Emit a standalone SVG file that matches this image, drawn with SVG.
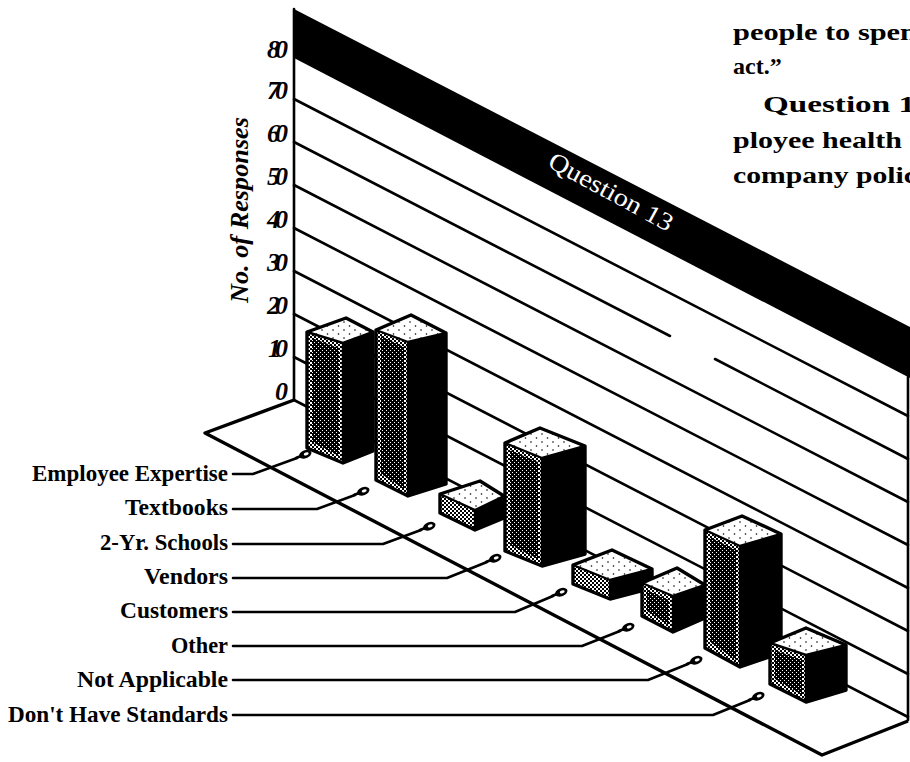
<svg xmlns="http://www.w3.org/2000/svg" xmlns:xlink="http://www.w3.org/1999/xlink" width="910" height="762" viewBox="0 0 910 762">
  <style>
    .ln { fill: none; stroke: #000; stroke-width: 2.6; stroke-linecap: round; stroke-linejoin: round; }
    .edge { fill: none; stroke: #000; stroke-width: 3.4; stroke-linejoin: round; }
    .inner { fill: none; stroke: #000; stroke-width: 2.4; stroke-linejoin: round; }
    .side { fill: #000; }
    .front { fill: url(#ht); }
    .shade { fill: url(#htd); }
    .top { fill: url(#speck); }
    .lab { font-family: "Liberation Serif", "DejaVu Serif", serif; font-weight: bold; font-size: 23px; fill: #000; text-anchor: end; }
    .num { font-family: "Liberation Serif", "DejaVu Serif", serif; font-weight: bold; font-style: italic; font-size: 26px; fill: #000; text-anchor: end; }
    .body { font-family: "Liberation Serif", "DejaVu Serif", serif; font-weight: bold; font-size: 24px; fill: #000; }
  </style>
  <defs>
    <!-- halftone fills for the bar faces -->
    <pattern id="ht" width="4" height="4" patternUnits="userSpaceOnUse">
      <rect width="4" height="4" fill="#000"/>
      <rect width="2" height="2" fill="#fff"/>
      <rect x="2" y="2" width="2" height="2" fill="#fff"/>
    </pattern>
    <pattern id="htd" width="4" height="4" patternUnits="userSpaceOnUse">
      <rect width="4" height="4" fill="#000"/>
      <rect width="1" height="1" fill="#fff"/>
      <rect x="2" y="2" width="1" height="1" fill="#fff"/>
    </pattern>
    <pattern id="speck" width="11" height="8" patternUnits="userSpaceOnUse">
      <rect width="11" height="8" fill="#fff"/>
      <circle cx="3" cy="2" r="0.8" fill="#000"/>
      <circle cx="8.5" cy="6" r="0.8" fill="#000"/>
    </pattern>
    <!-- little tag at the end of each leader line -->
    <g id="tag">
      <path d="M0,0 L6,0" stroke="#000" stroke-width="2.6" stroke-linecap="round"/>
      <ellipse cx="10" cy="0" rx="6.5" ry="4" fill="#000"/>
      <ellipse cx="11" cy="0" rx="2.6" ry="1.4" fill="#fff"/>
    </g>
  </defs>

  <rect width="910" height="762" fill="#fff"/>

  <!-- floor and back wall -->
  <g id="floor">
    <path class="edge" d="M294,400 L205,433 L822,755 L908,721"/>
  </g>
  <g id="wall">
    <path class="ln" d="M294,99 L908,416"/>
    <path class="ln" d="M294,142 L670,336"/>
    <path class="ln" d="M715,359 L908,459"/>
    <path class="ln" d="M294,185 L908,502"/>
    <path class="ln" d="M294,228 L908,545"/>
    <path class="ln" d="M294,271 L908,588"/>
    <path class="ln" d="M294,314 L908,631"/>
    <path class="ln" d="M294,357 L908,674"/>
    <path class="ln" d="M294,400 L908,717"/>
    <path class="ln" d="M908,377 L908,720"/>
    <polygon points="294,9 910,327 910,378 294,58" fill="#000"/>
    <path class="ln" d="M294,9 L294,400"/>
    <text transform="translate(611,192) rotate(28.5)" font-family="Liberation Serif, DejaVu Serif, serif" font-size="25" fill="#fff" text-anchor="middle" y="8" textLength="138" lengthAdjust="spacingAndGlyphs">Question 13</text>
  </g>

  <!-- value axis -->
  <g id="axis">
    <text class="num" x="288" y="58" textLength="21">80</text>
    <text class="num" x="288" y="99" textLength="21">70</text>
    <text class="num" x="288" y="142" textLength="21">60</text>
    <text class="num" x="288" y="185" textLength="21">50</text>
    <text class="num" x="288" y="228" textLength="21">40</text>
    <text class="num" x="288" y="271" textLength="21">30</text>
    <text class="num" x="288" y="314" textLength="21">20</text>
    <text class="num" x="288" y="357" textLength="20">10</text>
    <text class="num" x="288" y="400">0</text>
    <text transform="translate(248,210) rotate(-90)" font-family="Liberation Serif, DejaVu Serif, serif" font-style="italic" font-weight="bold" font-size="25" text-anchor="middle" textLength="186" lengthAdjust="spacingAndGlyphs">No. of Responses</text>
  </g>

  <!-- bars -->
  <g id="bar-employee-expertise">
    <polygon class="side" points="343,343 373,332 373,451 343,463"/>
    <polygon class="front" points="307,332 343,343 343,463 307,448"/>
    <polygon class="shade" points="312,338 339,348 339,456 312,442"/>
    <polygon class="top" points="307,332 346,318 373,332 343,343"/>
    <polygon class="edge" points="307,332 346,318 373,332 373,451 343,463 307,448"/>
    <path class="inner" d="M307,332 L343,343 L373,332 M343,343 L343,463"/>
  </g>
  <g id="bar-textbooks">
    <polygon class="side" points="408,342 446,333 446,484 408,496"/>
    <polygon class="front" points="376,330 408,342 408,496 376,480"/>
    <polygon class="shade" points="381,336 404,347 404,489 381,474"/>
    <polygon class="top" points="376,330 411,315 446,333 408,342"/>
    <polygon class="edge" points="376,330 411,315 446,333 446,484 408,496 376,480"/>
    <path class="inner" d="M376,330 L408,342 L446,333 M408,342 L408,496"/>
  </g>
  <g id="bar-2yr-schools">
    <polygon class="side" points="475,510 504,496 504,518 475,530"/>
    <polygon class="front" points="440,494 475,510 475,530 440,513"/>
    <polygon class="top" points="440,494 480,481 504,496 475,510"/>
    <polygon class="edge" points="440,494 480,481 504,496 504,518 475,530 440,513"/>
    <path class="inner" d="M440,494 L475,510 L504,496 M475,510 L475,530"/>
  </g>
  <g id="bar-vendors">
    <polygon class="side" points="542,458 585,446 585,554 542,566"/>
    <polygon class="front" points="505,443 542,458 542,566 505,551"/>
    <polygon class="shade" points="510,450 538,462 538,559 510,545"/>
    <polygon class="top" points="505,443 540,428 585,446 542,458"/>
    <polygon class="edge" points="505,443 540,428 585,446 585,554 542,566 505,551"/>
    <path class="inner" d="M505,443 L542,458 L585,446 M542,458 L542,566"/>
  </g>
  <g id="bar-customers">
    <polygon class="side" points="610,580 652,569 652,588 610,599"/>
    <polygon class="front" points="573,565 610,580 610,599 573,584"/>
    <polygon class="top" points="573,565 612,550 652,569 610,580"/>
    <polygon class="edge" points="573,565 612,550 652,569 652,588 610,599 573,584"/>
    <path class="inner" d="M573,565 L610,580 L652,569 M610,580 L610,599"/>
  </g>
  <g id="bar-other">
    <polygon class="side" points="673,596 705,585 705,618 673,632"/>
    <polygon class="front" points="642,583 673,596 673,632 642,616"/>
    <polygon class="shade" points="647,590 669,600 669,625 647,611"/>
    <polygon class="top" points="642,583 677,568 705,585 673,596"/>
    <polygon class="edge" points="642,583 677,568 705,585 705,618 673,632 642,616"/>
    <path class="inner" d="M642,583 L673,596 L705,585 M673,596 L673,632"/>
  </g>
  <g id="bar-not-applicable">
    <polygon class="side" points="740,546 781,534 781,653 740,667"/>
    <polygon class="front" points="705,530 740,546 740,667 705,648"/>
    <polygon class="shade" points="710,537 736,550 736,660 710,642"/>
    <polygon class="top" points="705,530 742,516 781,534 740,546"/>
    <polygon class="edge" points="705,530 742,516 781,534 781,653 740,667 705,648"/>
    <path class="inner" d="M705,530 L740,546 L781,534 M740,546 L740,667"/>
  </g>
  <g id="bar-dont-have-standards">
    <polygon class="side" points="806,655 846,645 846,690 806,702"/>
    <polygon class="front" points="770,643 806,655 806,702 770,684"/>
    <polygon class="shade" points="775,650 802,660 802,695 775,679"/>
    <polygon class="top" points="770,643 806,628 846,645 806,655"/>
    <polygon class="edge" points="770,643 806,628 846,645 846,690 806,702 770,684"/>
    <path class="inner" d="M770,643 L806,655 L846,645 M806,655 L806,702"/>
  </g>

  <!-- category labels -->
  <g id="labels">
    <text class="lab" x="228" y="481" textLength="196" lengthAdjust="spacingAndGlyphs">Employee Expertise</text>
    <text class="lab" x="228" y="515" textLength="103" lengthAdjust="spacingAndGlyphs">Textbooks</text>
    <text class="lab" x="228" y="550" textLength="128" lengthAdjust="spacingAndGlyphs">2-Yr. Schools</text>
    <text class="lab" x="228" y="584" textLength="84" lengthAdjust="spacingAndGlyphs">Vendors</text>
    <text class="lab" x="228" y="618" textLength="108" lengthAdjust="spacingAndGlyphs">Customers</text>
    <text class="lab" x="228" y="653" textLength="57" lengthAdjust="spacingAndGlyphs">Other</text>
    <text class="lab" x="228" y="687" textLength="151" lengthAdjust="spacingAndGlyphs">Not Applicable</text>
    <text class="lab" x="228" y="722" textLength="220" lengthAdjust="spacingAndGlyphs">Don't Have Standards</text>
  </g>

  <!-- leader lines from the labels to the floor -->
  <g id="connectors">
    <path class="ln" d="M233,474 H253 L297,458"/>
    <path class="ln" d="M233,509 H317 L355,495"/>
    <path class="ln" d="M233,544 H383 L421,530"/>
    <path class="ln" d="M233,578 H447 L487,562"/>
    <path class="ln" d="M233,612 H515 L553,596"/>
    <path class="ln" d="M233,646 H582 L620,631"/>
    <path class="ln" d="M233,680 H648 L688,664"/>
    <path class="ln" d="M233,715 H713 L750,700"/>
    <use xlink:href="#tag" transform="translate(296,458) rotate(-22)"/>
    <use xlink:href="#tag" transform="translate(354,495) rotate(-22)"/>
    <use xlink:href="#tag" transform="translate(420,530) rotate(-22)"/>
    <use xlink:href="#tag" transform="translate(486,562) rotate(-22)"/>
    <use xlink:href="#tag" transform="translate(552,596) rotate(-22)"/>
    <use xlink:href="#tag" transform="translate(619,631) rotate(-22)"/>
    <use xlink:href="#tag" transform="translate(687,664) rotate(-22)"/>
    <use xlink:href="#tag" transform="translate(749,700) rotate(-22)"/>
  </g>

  <!-- running text at the page edge -->
  <g id="page-text">
    <text class="body" x="733" y="40" textLength="184" lengthAdjust="spacingAndGlyphs">people to spen</text>
    <text class="body" x="733" y="74">act.”</text>
    <text class="body" x="763" y="112" textLength="152" lengthAdjust="spacingAndGlyphs">Question 1</text>
    <text class="body" x="733" y="148" textLength="169" lengthAdjust="spacingAndGlyphs">ployee health</text>
    <text class="body" x="733" y="183" textLength="184" lengthAdjust="spacingAndGlyphs">company polic</text>
  </g>
</svg>
